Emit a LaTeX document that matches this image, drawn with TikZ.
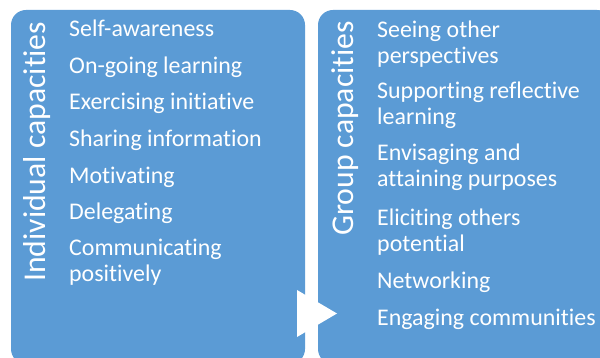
\documentclass[tikz,border=0pt]{standalone}
\usepackage{fontspec}
\setmainfont{Carlito}[Ligatures=NoCommon]
\definecolor{panelblue}{HTML}{5B9BD5}
\begin{document}
\begin{tikzpicture}[x=1pt,y=-1pt,
  panel/.style={fill=panelblue,rounded corners=15pt},
  heading/.style={text=white,rotate=90,anchor=base west,inner sep=0pt,
    font=\fontsize{31.7}{34}\selectfont},
  item/.style={text=white,anchor=base west,inner sep=0pt,align=left,
    font=\fontsize{23.9}{26.5}\selectfont}]
\useasboundingbox (0,0) rectangle (600,358);
\clip (0,0) rectangle (600,358);
% two rounded panels
\path[panel] (11,10) rectangle (305,364);
\path[panel] (318,10) rectangle (612,364);
% vertical headings
\node[heading] (indiv) at (45,282) {Individual capacities};
\node[heading] (group) at (353,236) {Group capacities};
% individual items (multi-line items are placed by their last baseline)
\node[item] (i1) at (69,37)  {Self-awareness};
\node[item] (i2) at (69,74)  {On-going learning};
\node[item] (i3) at (69,110) {Exercising initiative};
\node[item] (i4) at (69,147) {Sharing information};
\node[item] (i5) at (69,184) {Motivating};
\node[item] (i6) at (69,220) {Delegating};
\node[item] (i7) at (69,282) {Communicating\\positively};
% group items
\node[item] (g1) at (377,64)  {Seeing other\\perspectives};
\node[item] (g2) at (377,125) {Supporting reflective\\learning};
\node[item] (g3) at (377,187) {Envisaging and\\attaining purposes};
\node[item] (g4) at (377,252) {Eliciting others\\potential};
\node[item] (g5) at (377,288) {Networking};
\node[item] (g6) at (377,325) {Engaging communities};
% arrow between panels
\fill[white] (297,290) -- (337,313.5) -- (297,337) -- cycle;
\end{tikzpicture}
\end{document}
